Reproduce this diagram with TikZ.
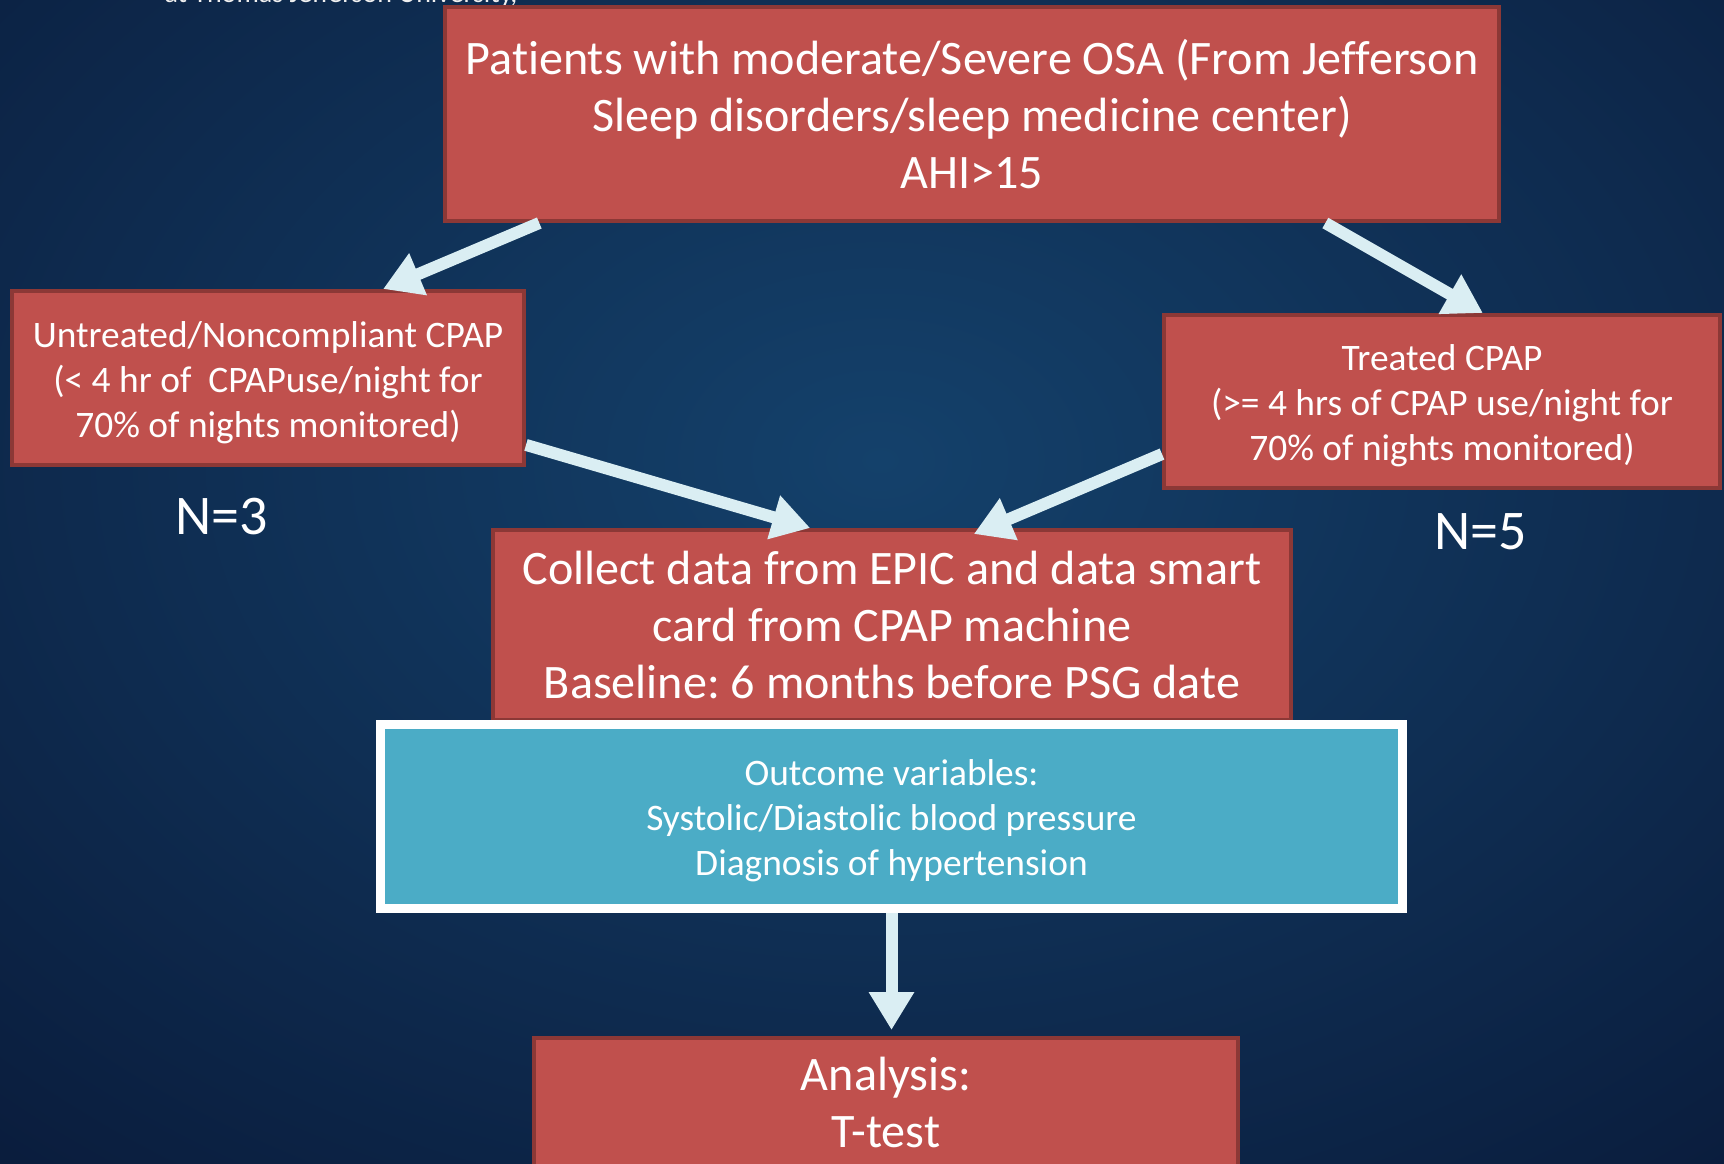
\documentclass[tikz,border=0pt]{standalone}
\usepackage{fontspec}
\setmainfont{Carlito}[Ligatures={NoCommon}]
\frenchspacing
\usetikzlibrary{arrows.meta,calc}
\definecolor{bgedge}{HTML}{0A1C3C}
\definecolor{bgcenter}{HTML}{14416B}
\definecolor{boxred}{HTML}{C0504D}
\definecolor{boxborder}{HTML}{8C3836}
\definecolor{boxblue}{HTML}{4BACC6}
\definecolor{arrowcol}{HTML}{DAEEF3}
\newcommand{\topstr}{\rule{0pt}{40pt}}
\newcommand{\botstr}{\rule[-12pt]{0pt}{12pt}}
\tikzset{
  redbox/.style={draw=boxborder, line width=4pt, fill=boxred, text=white, align=center, inner sep=0pt},
  bluebox/.style={draw=white, line width=9pt, fill=boxblue, text=white, align=center, inner sep=0pt},
  flowarrow/.style={draw=arrowcol, line width=12pt, -{Triangle[length=38pt,width=43pt]}},
  bigtext/.style={font=\fontsize{48.1}{57}\selectfont},
  midtext/.style={font=\fontsize{37.4}{45}\selectfont},
  nlabel/.style={text=white, font=\fontsize{56}{60}\selectfont, inner sep=0pt}
}
\begin{document}
\begin{tikzpicture}[x=1pt,y=-1pt]
\useasboundingbox (0,0) rectangle (1724,1164);
\clip (0,0) rectangle (1724,1164);
\fill[bgedge] (0,0) rectangle (1724,1164);
\shade[inner color=bgcenter, outer color=bgedge] (880,460) ellipse [x radius=1350pt, y radius=950pt];

\node[text=white!88!gray, font=\fontsize{28}{32}\selectfont, anchor=base, inner sep=0pt] (cut) at (341,3) {at Thomas Jefferson University,};

\node[redbox, bigtext, minimum width=1054pt, minimum height=214pt] (top) at (972,114)
  {Patients with moderate/Severe OSA (From Jefferson\\Sleep disorders/sleep medicine center)\\AHI>15};
\node[redbox, midtext, minimum width=512pt, minimum height=174pt] (left) at (268,378)
  {\topstr Untreated/Noncompliant CPAP\\(< 4 hr of \ CPAPuse/night for\\70\% of nights monitored)\botstr};
\node[redbox, midtext, minimum width=556pt, minimum height=173pt] (right) at (1442,401.5)
  {\topstr Treated CPAP\\(>= 4 hrs of CPAP use/night for\\70\% of nights monitored)\botstr};
\node[redbox, bigtext, minimum width=798pt, minimum height=190pt] (mid) at (892,625)
  {Collect data from EPIC and data smart\\card from CPAP machine\\Baseline: 6 months before PSG date};
\node[bluebox, midtext, minimum width=1022pt, minimum height=184pt] (blue) at (891.5,816.5)
  {\topstr Outcome variables:\\Systolic/Diastolic blood pressure\\Diagnosis of hypertension\botstr};
\node[redbox, bigtext, minimum width=704pt, minimum height=128pt] (bot) at (886,1102)
  {Analysis:\\T-test};

\node[nlabel] (n3) at (222,517) {N=3};
\node[nlabel] (n5) at (1481,532) {N=5};

\draw[flowarrow] ($(top.south west)!0.091!(top.south east)$) -- ($(left.north west)!0.723!(left.north east)$);
\draw[flowarrow] ($(top.south west)!0.834!(top.south east)$) -- ($(right.north west)!0.573!(right.north east)$);
\draw[flowarrow] ($(left.north east)!0.876!(left.south east)$) -- ($(mid.north west)!0.398!(mid.north east)$);
\draw[flowarrow] ($(right.north west)!0.797!(right.south west)$) -- ($(mid.north west)!0.602!(mid.north east)+(0,6)$);
\draw[flowarrow, shorten >=6pt] (blue.south) -- (blue.south |- bot.north);
\end{tikzpicture}
\end{document}
